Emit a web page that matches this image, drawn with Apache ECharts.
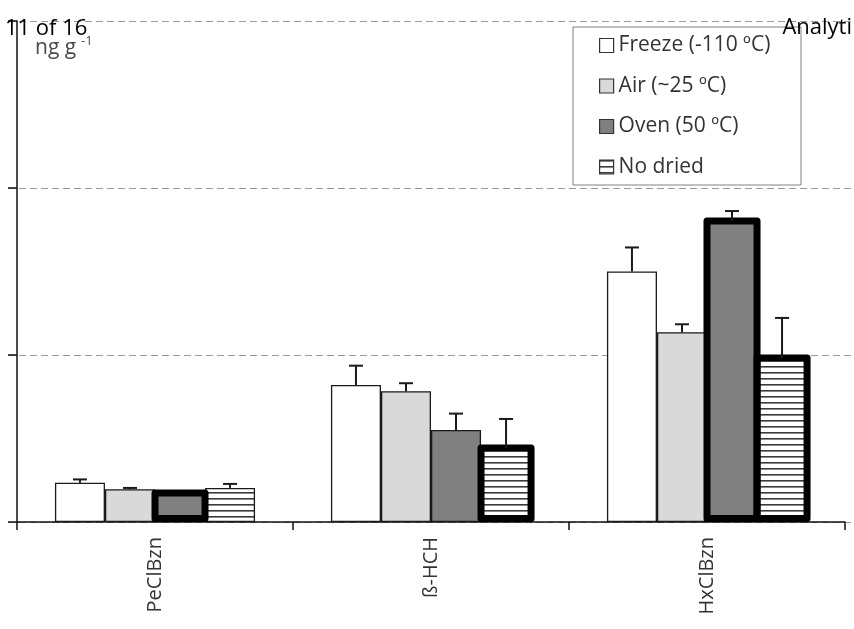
<!DOCTYPE html>
<html>
<head>
<meta charset="utf-8">
<script src="https://cdn.jsdelivr.net/npm/echarts@6/dist/echarts.min.js"></script>
<style>
html,body{margin:0;padding:0;background:#fff;}
#chart{width:854px;height:629px;}
</style>
</head>
<body>
<div id="chart"></div>
<script>
// ---- data ----
const categories = ['PeClBzn', 'ß-HCH', 'HxClBzn'];
const seriesNames = ['Freeze (-110 ºC)', 'Air (~25 ºC)', 'Oven (50 ºC)', 'No dried'];
const freeze = [0.235, 0.82, 1.50];
const freezeErr = [0.02, 0.116, 0.144];
const air = [0.196, 0.783, 1.136];
const airErr = [0.008, 0.048, 0.048];
const oven = [0.174, 0.551, 1.802];
const ovenErr = [0.0, 0.098, 0.06];
const noDried = [0.204, 0.443, 0.982];
const noDriedErr = [0.024, 0.174, 0.24];
// which categories are outlined with a heavy border, per series
const heavyOutline = [[], [], [0, 2], [1, 2]];

// ---- styles ----
const FONT = 'Open Sans';
const pat = document.createElement('canvas');
pat.width = 8; pat.height = 6;
const pctx = pat.getContext('2d');
pctx.fillStyle = '#ffffff'; pctx.fillRect(0, 0, 8, 6);
pctx.fillStyle = '#3a3a3a'; pctx.fillRect(0, 0, 8, 1.6);

const fills = ['#ffffff', '#d9d9d9', '#808080', {image: pat, repeat: 'repeat'}];
const values = [freeze, air, oven, noDried];
const errs = [freezeErr, airErr, ovenErr, noDriedErr];
const CAT_GAP = 0.275;
const HEAVY = 7;

const chart = echarts.init(document.getElementById('chart'), null, {renderer: 'canvas'});

function barX(api, c, s) {
  const band = api.size([1, 0])[0];
  const bw = band * (1 - CAT_GAP) / 4;
  return {x: api.coord([c, 0])[0] + (s - 1.5) * bw, bw: bw};
}

const series = [];
values.forEach((vals, s) => {
  series.push({
    name: seriesNames[s],
    type: 'bar',
    xAxisIndex: 0, yAxisIndex: 0,
    barGap: '0%',
    barCategoryGap: (CAT_GAP * 100) + '%',
    itemStyle: {color: fills[s], borderColor: '#1a1a1a', borderWidth: 1.3},
    data: vals,
    z: 2
  });
});
// heavy outlines drawn centred on the bar edges
values.forEach((vals, s) => {
  if (!heavyOutline[s].length) return;
  series.push({
    type: 'custom',
    name: 'outline' + s,
    xAxisIndex: 0, yAxisIndex: 0,
    z: 4, silent: true,
    encode: {x: 0, y: 1},
    data: heavyOutline[s].map(i => [i, vals[i]]),
    renderItem: function (params, api) {
      const c = api.value(0), v = api.value(1);
      const p = barX(api, c, s);
      const top = api.coord([c, v])[1];
      const bottom = api.coord([c, 0])[1] - HEAVY / 2;
      return {
        type: 'rect',
        shape: {x: p.x - p.bw / 2, y: top, width: p.bw, height: bottom - top},
        style: {fill: null, stroke: '#000', lineWidth: HEAVY, lineJoin: 'round'}
      };
    }
  });
});
values.forEach((vals, s) => {
  series.push({
    type: 'custom',
    name: 'err' + s,
    xAxisIndex: 0, yAxisIndex: 0,
    z: 5, silent: true,
    encode: {x: 0, y: 1},
    data: vals.map((v, i) => [i, v, errs[s][i]]),
    renderItem: function (params, api) {
      const c = api.value(0), v = api.value(1), e = api.value(2);
      if (!e) return null;
      const x = barX(api, c, s).x;
      const y0 = api.coord([c, v])[1];
      const y1 = api.coord([c, v + e])[1];
      const st = {stroke: '#1a1a1a', lineWidth: 2};
      return {
        type: 'group',
        children: [
          {type: 'line', shape: {x1: x, y1: y0, x2: x, y2: y1}, style: st},
          {type: 'line', shape: {x1: x - 7, y1: y1, x2: x + 7, y2: y1}, style: st}
        ]
      };
    }
  });
});
// helper series for extended dashed grid lines
series.push({type: 'bar', xAxisIndex: 1, yAxisIndex: 1, data: [], silent: true});

const option = {
  animation: false,
  backgroundColor: '#ffffff',
  textStyle: {fontFamily: FONT},
  grid: [
    {left: 17, right: 9, top: 21, bottom: 107},
    {left: 8, right: 0, top: 21, bottom: 107}
  ],
  xAxis: [
    {
      type: 'category', gridIndex: 0, data: categories,
      axisLine: {lineStyle: {color: '#111', width: 1.5}},
      axisTick: {show: true, length: 8, alignWithLabel: false, lineStyle: {color: '#111', width: 1.5}},
      axisLabel: {rotate: 90, margin: 15, fontSize: 20, color: '#333', fontFamily: FONT}
    },
    {type: 'category', gridIndex: 1, data: categories, show: false}
  ],
  yAxis: [
    {
      type: 'value', gridIndex: 0, min: 0, max: 3, interval: 1,
      axisLine: {show: true, lineStyle: {color: '#111', width: 1.5}},
      axisTick: {show: true, length: 9, lineStyle: {color: '#111', width: 1.5}},
      axisLabel: {show: false},
      splitLine: {show: false},
      z: 3
    },
    {
      type: 'value', gridIndex: 1, min: 0, max: 3, interval: 1,
      axisLine: {show: false}, axisTick: {show: false}, axisLabel: {show: false},
      splitLine: {show: true, lineStyle: {color: '#9a9a9a', width: 1, type: [7, 4]}},
      z: 0
    }
  ],
  legend: {
    data: seriesNames,
    orient: 'vertical',
    left: 599, top: 35,
    padding: 0,
    itemWidth: 14, itemHeight: 14,
    itemGap: 19.5,
    icon: 'rect',
    z: 10,
    textStyle: {fontSize: 21, color: '#333', fontFamily: FONT, lineHeight: 20},
    itemStyle: {borderWidth: 1.2, borderColor: '#333'}
  },
  graphic: [
    {type: 'rect', z: 5, shape: {x: 573, y: 27, width: 228, height: 158},
      style: {fill: '#fff', stroke: '#808080', lineWidth: 1}},
    {type: 'text', z: 20, left: 5, top: 18,
      style: {text: '11 of 16', fontSize: 22, fontFamily: FONT, fill: '#000'}},
    {type: 'text', z: 20, right: 2, top: 17,
      style: {text: 'Analyti', fontSize: 22, fontFamily: FONT, fill: '#000'}},
    {type: 'text', z: 20, left: 35, top: 38,
      style: {text: 'ng g', fontSize: 21, fontFamily: FONT, fill: '#4a4a4a'}},
    {type: 'text', z: 20, left: 81, top: 35,
      style: {text: '-1', fontSize: 13, fontFamily: FONT, fill: '#4a4a4a'}}
  ],
  series: series
};
chart.setOption(option);
</script>
</body>
</html>
